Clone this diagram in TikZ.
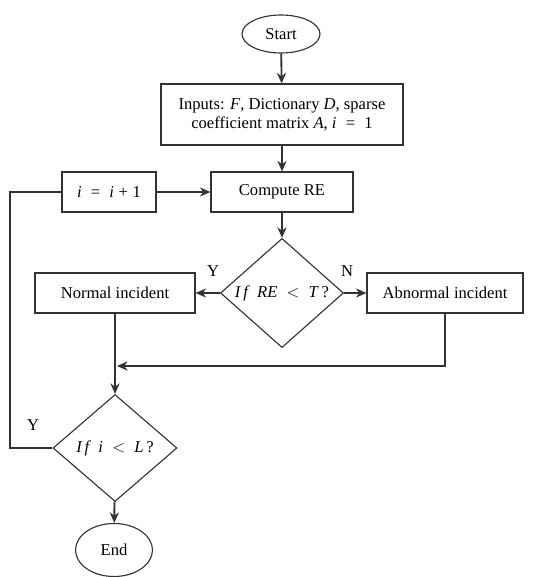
\documentclass[tikz,border=0pt]{standalone}
\usepackage{fontspec}
\setmainfont{Liberation Serif}
\usetikzlibrary{shapes.geometric}
\usetikzlibrary{arrows.meta}
\definecolor{ink}{HTML}{333333}
\tikzset{
    termnode/.style = {ellipse, draw=ink, line width=0.8pt, inner sep=0pt},
    procnode/.style = {rectangle, draw=ink, line width=0.8pt, align=center, inner sep=0pt},
    decnode/.style = {diamond, draw=ink, line width=0.8pt, inner sep=0pt, align=center},
    edgen/.style = {-{Stealth[length=7.5pt,width=6.5pt]},ink,line width=1.3pt},
    edgel/.style = {ink,line width=1.3pt}, % loop back
    ylabel/.style = {inner sep=0pt}
}

\begin{document}
\begin{tikzpicture}[x=0.025cm, y=-0.025cm,
  font=\fontsize{11.8}{13.8}\selectfont]
  \useasboundingbox (0,0) rectangle (543,577);

  \node[termnode, minimum width=78*0.025cm, minimum height=38*0.025cm] (start) at (281,34) {Start};
  \node[procnode, minimum width=242*0.025cm, minimum height=61*0.025cm] (inputs) at (282,114.5)
    {Inputs: \textit{F}, Dictionary \textit{D}, sparse\\coefficient matrix \textit{A}, \textit{i}\;\;=\;\;1};
  \node[procnode, minimum width=142*0.025cm, minimum height=40*0.025cm] (compute) at (282,192) {Compute RE};
  \node[procnode, minimum width=94*0.025cm, minimum height=40*0.025cm] (incr) at (109,192) {\textit{i}\;\;=\;\;\textit{i}\;+\;1};
  \node[decnode, minimum width=123*0.025cm, minimum height=109*0.025cm] (check) at (282,293) {\textit{I\,f\;\;RE}\;\;$<$\;\;\textit{T}\,?};
  \node[procnode, minimum width=160*0.025cm, minimum height=40*0.025cm] (normal) at (115,293) {Normal incident};
  \node[procnode, minimum width=156*0.025cm, minimum height=40*0.025cm] (abnormal) at (445,293) {Abnormal incident};
  \node[decnode, minimum width=124*0.025cm, minimum height=107*0.025cm] (loop) at (115,448) {\textit{I\,f\;\;i}\;\;$<$\;\;\textit{L}\,?};
  \node[termnode, minimum width=77*0.025cm, minimum height=53*0.025cm] (end) at (114,550) {End};

  \node[ylabel] (ya) at (213,271) {Y};
  \node[ylabel] (nb) at (347,271) {N};
  \node[ylabel] (yc) at (33,425) {Y};

  \coordinate (merge) at (117,366);
  \coordinate (back) at (10,448);

  \draw[edgen] (start) -- (inputs);
  \draw[edgen] (inputs) -- (compute);
  \draw[edgen] (incr) -- (compute);
  \draw[edgen] (compute) -- (check);
  \draw[edgen] (check.west) -- (normal);
  \draw[edgen] (check.east) -- (abnormal);
  \draw[edgen] (abnormal.south) |- (merge);
  \draw[edgen] (normal) -- (loop);
  \draw[edgen] (loop) -- (end);
  \draw[edgel] (loop.west) -- (back) |- (incr.west);
\end{tikzpicture}
\end{document}
